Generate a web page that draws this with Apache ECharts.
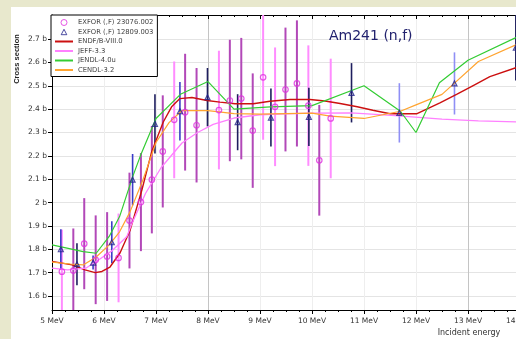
<!DOCTYPE html>
<html>
<head>
<meta charset="utf-8">
<script src="https://cdn.jsdelivr.net/npm/echarts@6/dist/echarts.min.js"></script>
<style>
  html, body { margin: 0; padding: 0; background: #e8e8cd; }
  #chart { width: 516px; height: 339px; }
</style>
</head>
<body>
<div id="chart"></div>
<script>
// Am-241 (n,f) cross section, 5-14 MeV

// EXFOR 23076.002 (circles): energy [MeV], cross section [b], uncertainty [b]
const energyA = [5.19, 5.41, 5.62, 5.84, 6.06, 6.28, 6.49, 6.71, 6.92, 7.13, 7.35, 7.56, 7.78, 8.21, 8.42, 8.64, 8.86, 9.06, 9.29, 9.49, 9.71, 9.93, 10.14, 10.36];
const sigmaA  = [1.704, 1.709, 1.824, 1.755, 1.769, 1.763, 1.923, 2.002, 2.098, 2.219, 2.354, 2.387, 2.331, 2.396, 2.437, 2.445, 2.308, 2.536, 2.410, 2.484, 2.510, 2.415, 2.181, 2.360];
const errA    = [0.18, 0.18, 0.195, 0.19, 0.19, 0.19, 0.205, 0.21, 0.23, 0.24, 0.25, 0.25, 0.245, 0.254, 0.26, 0.26, 0.245, 0.267, 0.254, 0.265, 0.27, 0.258, 0.237, 0.256];

// EXFOR 12809.003 (triangles)
const energyB = [5.17, 5.48, 5.79, 6.15, 6.55, 6.98, 7.46, 7.99, 8.57, 9.21, 9.94, 10.76, 11.68, 12.74, 13.92];
const sigmaB  = [1.800, 1.736, 1.743, 1.830, 2.098, 2.337, 2.391, 2.451, 2.344, 2.364, 2.367, 2.470, 2.384, 2.510, 2.663];
const errB    = [0.086, 0.09, 0.03, 0.09, 0.11, 0.127, 0.125, 0.125, 0.12, 0.124, 0.125, 0.127, 0.127, 0.133, 0.14];

// Evaluated libraries
const endfE = [5.0, 5.385, 5.635, 5.83, 5.96, 6.115, 6.31, 6.5, 6.73, 6.92, 7.14, 7.3, 7.46, 7.69, 7.98, 8.23, 8.52, 8.87, 9.19, 9.58, 9.96, 10.25, 10.54, 10.87, 11.17, 11.5, 12.01, 12.46, 12.78, 13.1, 13.42, 13.92, 14.0];
const endfS = [1.748, 1.733, 1.712, 1.700, 1.705, 1.724, 1.785, 1.880, 2.055, 2.220, 2.345, 2.410, 2.445, 2.450, 2.437, 2.430, 2.423, 2.423, 2.434, 2.441, 2.441, 2.435, 2.424, 2.410, 2.395, 2.380, 2.380, 2.427, 2.463, 2.501, 2.539, 2.577, 2.583];

const jeffE = [5.0, 5.3, 5.65, 5.9, 6.15, 6.44, 6.54, 6.8, 7.1, 7.5, 7.8, 8.1, 8.5, 9.0, 9.5, 10.0, 10.75, 11.6, 12.5, 13.2, 14.0];
const jeffS = [1.719, 1.712, 1.719, 1.755, 1.793, 1.855, 1.912, 2.040, 2.150, 2.255, 2.300, 2.335, 2.362, 2.376, 2.380, 2.383, 2.384, 2.372, 2.357, 2.350, 2.345];

const jendlE = [5.0, 5.6, 5.85, 6.1, 6.3, 6.55, 6.7, 7.0, 7.48, 8.0, 8.5, 9.2, 10.0, 11.0, 11.7, 12.0, 12.45, 13.0, 13.92, 14.0];
const jendlS = [1.819, 1.790, 1.783, 1.855, 1.940, 2.110, 2.200, 2.360, 2.465, 2.518, 2.400, 2.410, 2.415, 2.500, 2.391, 2.300, 2.513, 2.609, 2.706, 2.710];

const cendlE = [5.0, 5.35, 5.6, 5.85, 6.1, 6.3, 6.5, 6.75, 7.0, 7.25, 7.5, 8.0, 8.5, 9.0, 10.0, 10.35, 11.0, 11.7, 12.0, 12.5, 13.2, 13.92, 14.0];
const cendlS = [1.745, 1.737, 1.733, 1.767, 1.819, 1.875, 1.960, 2.098, 2.257, 2.342, 2.394, 2.394, 2.381, 2.379, 2.383, 2.370, 2.360, 2.391, 2.418, 2.463, 2.604, 2.675, 2.680];

// Axis ticks
const xTicksMeV = [5, 6, 7, 8, 9, 10, 11, 12, 13, 14];
const yTicksB = [1.6, 1.7, 1.8, 1.9, 2.0, 2.1, 2.2, 2.3, 2.4, 2.5, 2.6, 2.7];

// Error-bar tones (indices drawn in the lighter / darker shade)
const lightBarsA = [0, 5, 10, 13, 17, 18, 21, 23];
const navyBarsB = [1, 5, 7, 8, 9, 10, 11, 14];
const paleBarsB = [12, 13];

const FONT = 'DejaVu Sans';
const zip = (xs, ys) => xs.map((x, i) => [x, ys[i]]);

function errorBars(xs, ys, es) {
  return xs.map((x, i) => [x, ys[i] - es[i], ys[i] + es[i]]);
}

function barRenderer(colorOf, width) {
  return function (params, api) {
    const x = api.value(0);
    const p1 = api.coord([x, api.value(1)]);
    const p2 = api.coord([x, api.value(2)]);
    return {
      type: 'line',
      shape: { x1: p1[0], y1: p1[1], x2: p2[0], y2: p2[1] },
      style: { stroke: colorOf(params.dataIndex), lineWidth: width }
    };
  };
}

const colorA = i => lightBarsA.includes(i) ? '#ff8cff' : '#b248b8';
const colorB = i => paleBarsB.includes(i) ? '#8f8ff5' : (navyBarsB.includes(i) ? '#1e1e5e' : '#3b3bc8');

// Small legend markers inside an 18x7 icon box (corner stubs keep the box size)
const BOX = 'M0,0L0.01,0M18,7L17.99,7';
const legendCircle = 'path://' + BOX + 'M6,3.5a3,3 0 1,0 6,0a3,3 0 1,0 -6,0Z';
const legendTriangle = 'path://' + BOX + 'M9,0.8L11.8,6.2L6.2,6.2Z';

const chart = echarts.init(document.getElementById('chart'), null, { renderer: 'canvas' });

// Curves carry no point symbols; the legend shows only their line
const lineSeries = (name, xs, ys, color, width) => ({
  name, type: 'line', data: zip(xs, ys), symbol: 'none', clip: true, z: 3,
  lineStyle: { color, width }, itemStyle: { color, opacity: 0 }
});

chart.setOption({
  animation: false,
  backgroundColor: '#e8e8cd',
  graphic: [
    { type: 'rect', z: -10, silent: true, shape: { x: 11, y: 7, width: 520, height: 340 }, style: { fill: '#ffffff' } },
    { type: 'text', x: 17, y: 59, rotation: Math.PI / 2, silent: true,
      style: { text: 'Cross section', font: 'bold 7.5px "Liberation Sans"', fill: '#222', textAlign: 'center', textVerticalAlign: 'middle' } },
    { type: 'text', x: 469, y: 333, silent: true,
      style: { text: 'Incident energy', font: '8px "DejaVu Sans"', fill: '#333', textAlign: 'center', textVerticalAlign: 'middle' } }
  ],
  title: {
    text: 'Am241 (n,f)', left: 329, top: 29, padding: 0,
    textStyle: { fontFamily: FONT, fontSize: 14, fontWeight: 'normal', color: '#22226e' }
  },
  grid: { left: 52, top: 15, width: 468, height: 295, containLabel: false, outerBoundsMode: 'none' },
  legend: {
    orient: 'vertical', left: 51, top: 15,
    padding: [3, 4, 2, 3], itemGap: 0.5, itemWidth: 18, itemHeight: 7,
    backgroundColor: '#ffffff', borderColor: '#000', borderWidth: 1,
    symbolKeepAspect: true,
    lineStyle: { width: 2 },
    textStyle: { fontFamily: FONT, fontSize: 6.8, lineHeight: 9, color: '#444' },
    data: [
      { name: 'EXFOR (,F) 23076.002', icon: legendCircle, itemStyle: { borderWidth: 1 } },
      { name: 'EXFOR (,F) 12809.003', icon: legendTriangle, itemStyle: { borderWidth: 1 } },
      'ENDF/B-VIII.0', 'JEFF-3.3', 'JENDL-4.0u', 'CENDL-3.2'
    ],
    z: 10
  },
  xAxis: [
    {
      type: 'value', min: xTicksMeV[0], max: xTicksMeV[xTicksMeV.length - 1], interval: 1,
      axisLine: { lineStyle: { color: '#000', width: 1 } },
      axisTick: { length: 4, lineStyle: { color: '#000' } },
      minorTick: { show: true, splitNumber: 4, length: 2, lineStyle: { color: '#000' } },
      splitLine: { show: true, lineStyle: { color: ['#eeeeee', '#eeeeee', '#eeeeee', '#c4c4c4', '#eeeeee'] } },
      axisLabel: { margin: 7, fontFamily: FONT, fontSize: 7.5, color: '#333', formatter: v => v + ' MeV' }
    },
    {
      type: 'value', position: 'top', min: xTicksMeV[0], max: xTicksMeV[xTicksMeV.length - 1], interval: 1,
      axisLine: { onZero: false, lineStyle: { color: '#000', width: 1 } },
      axisTick: { inside: true, length: 4, lineStyle: { color: '#000' } },
      minorTick: { show: true, splitNumber: 4, length: 2, lineStyle: { color: '#000' } },
      splitLine: { show: false },
      axisLabel: { show: false }
    }
  ],
  yAxis: {
    type: 'value', min: 1.54, max: 2.803,
    axisLine: { show: true, onZero: false, lineStyle: { color: '#000', width: 1 } },
    axisTick: { show: true, length: 4, customValues: yTicksB, lineStyle: { color: '#000' } },
    splitLine: { show: true, lineStyle: { color: '#e4e4e4' } },
    axisLabel: {
      margin: 5, fontFamily: FONT, fontSize: 7.5, color: '#333',
      customValues: yTicksB, formatter: v => Number(v.toFixed(1)) + ' b'
    }
  },
  series: [
    { type: 'custom', name: 'barsA', data: errorBars(energyA, sigmaA, errA), renderItem: barRenderer(colorA, 2), clip: true, z: 2 },
    { type: 'custom', name: 'barsB', data: errorBars(energyB, sigmaB, errB), renderItem: barRenderer(colorB, 1.6), clip: true, z: 2 },
    lineSeries('ENDF/B-VIII.0', endfE, endfS, '#cc1010', 1.4),
    lineSeries('JEFF-3.3', jeffE, jeffS, '#ff80ff', 1.3),
    lineSeries('JENDL-4.0u', jendlE, jendlS, '#33cc33', 1.2),
    lineSeries('CENDL-3.2', cendlE, cendlS, '#ffa430', 1.2),
    {
      name: 'EXFOR (,F) 23076.002', type: 'scatter', data: zip(energyA, sigmaA), z: 5,
      symbol: 'circle', symbolSize: 5.5, legendIcon: legendCircle,
      itemStyle: { color: 'rgba(255,255,255,0)', borderColor: '#e030e0', borderWidth: 1.2 }
    },
    {
      name: 'EXFOR (,F) 12809.003', type: 'scatter', data: zip(energyB, sigmaB), z: 5,
      symbol: 'triangle', symbolSize: 5, legendIcon: legendTriangle,
      itemStyle: { color: 'rgba(255,255,255,0)', borderColor: '#22228a', borderWidth: 1.2 }
    }
  ]
});
</script>
</body>
</html>
